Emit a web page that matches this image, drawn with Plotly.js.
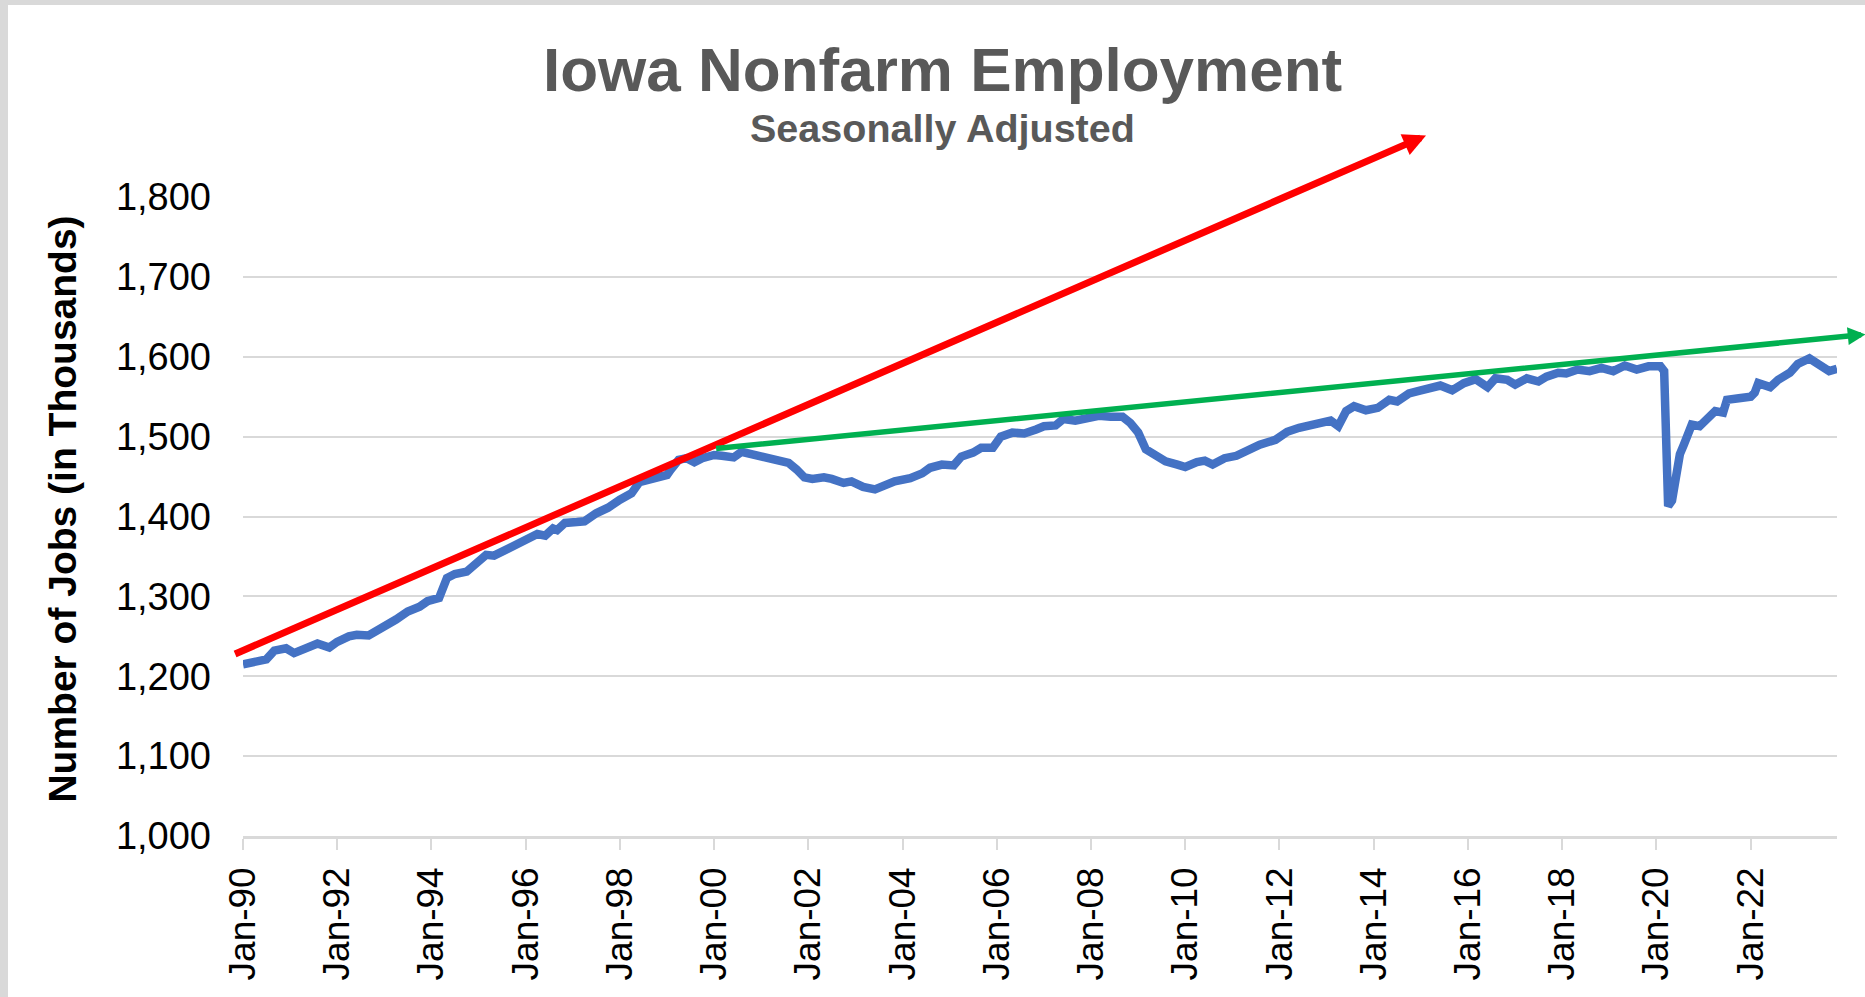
<!DOCTYPE html>
<html>
<head>
<meta charset="utf-8">
<script src="https://cdn.plot.ly/plotly-3.0.1.min.js"></script>
<style>
  html, body { margin: 0; padding: 0; background: #d9d9d9; width: 1865px; height: 997px; overflow: hidden; }
  #chart { position: absolute; left: 8px; top: 5px; width: 1857px; height: 992px; background: #ffffff; }
</style>
</head>
<body>
<div id="chart"></div>
<script>
// ---- Data (thousands of jobs) ----
const dates = [
  '1990-01','1990-04','1990-07','1990-09','1990-12','1991-02','1991-05','1991-08','1991-11',
  '1992-01','1992-04','1992-06','1992-09','1992-12','1993-02','1993-04','1993-07','1993-10','1993-12',
  '1994-03','1994-05','1994-07','1994-10','1995-01','1995-03','1995-05','1995-08','1995-11',
  '1996-02','1996-04','1996-06','1996-08','1996-09','1996-11','1997-02','1997-04','1997-07','1997-10',
  '1998-01','1998-04','1998-06','1998-09','1999-01','1999-02','1999-04','1999-06','1999-08','1999-10',
  '2000-01','2000-03','2000-06','2000-08','2000-11','2001-03','2001-05','2001-08','2001-10','2001-12',
  '2002-02','2002-05','2002-07','2002-10','2002-12','2003-03','2003-06','2003-08','2003-11',
  '2004-03','2004-06','2004-08','2004-11','2005-02','2005-04','2005-07','2005-09','2005-12',
  '2006-02','2006-05','2006-08','2006-11','2007-01','2007-04','2007-06','2007-09',
  '2008-01','2008-03','2008-06','2008-09','2008-11','2009-01','2009-03','2009-06','2009-08','2009-11',
  '2010-01','2010-04','2010-06','2010-08','2010-11','2011-02','2011-05','2011-08','2011-12',
  '2012-03','2012-06','2012-09','2012-12','2013-02','2013-04','2013-06','2013-08','2013-11',
  '2014-02','2014-05','2014-07','2014-10','2015-01','2015-04','2015-06','2015-09','2015-12',
  '2016-03','2016-06','2016-08','2016-11','2017-01','2017-04','2017-07','2017-09','2017-12',
  '2018-02','2018-05','2018-08','2018-11','2019-02','2019-05','2019-08','2019-11',
  '2020-01','2020-02','2020-03','2020-04','2020-05','2020-06','2020-07','2020-08','2020-10','2020-12',
  '2021-02','2021-04','2021-06','2021-07','2021-10','2022-01','2022-02','2022-03','2022-06','2022-08','2022-11',
  '2023-01','2023-04','2023-06','2023-09','2023-11'
];
const jobs = [
  1215,1219,1221,1232,1235,1229,1236,1241,1236,
  1243,1250,1252,1251,1259,1263,1271,1281,1287,1294,
  1298,1323,1328,1331,1342,1352,1351,1358,1367,
  1374,1378,1376,1385,1383,1392,1393,1394,1404,1411,
  1421,1429,1443,1446,1452,1459,1471,1473,1468,1473,
  1477,1476,1474,1481,1478,1473,1472,1467,1459,1449,
  1447,1449,1447,1442,1444,1437,1434,1438,1444,
  1448,1454,1461,1465,1464,1475,1480,1486,1486,
  1500,1505,1504,1509,1513,1514,1522,1520,
  1525,1526,1525,1525,1517,1505,1484,1476,1469,1465,
  1462,1468,1470,1465,1473,1476,1483,1490,1496,
  1506,1511,1514,1517,1520,1513,1532,1538,1533,
  1536,1546,1544,1554,1558,1562,1564,1558,1567,
  1572,1562,1573,1571,1565,1573,1569,1575,1580,
  1579,1584,1582,1586,1582,1589,1584,1588,
  1588,1588,1582,1413,1420,1460,1478,1490,1515,1513,
  1521,1532,1530,1546,1548,1550,1555,1567,1562,1571,1580,
  1591,1598,1592,1582,1585
];

// Trend arrows: [tail, head] as date / value
const redArrowX = ['1989-10-20', '2015-02-10'];
const redArrowY = [1227, 1877];
const greenArrowX = ['2000-01-05', '2024-06-10'];
const greenArrowY = [1485, 1628];

// Axis settings
const xRange = ['1990-01-01', '2023-11-01'];
const yRange = [1000, 1800];

const titleText = '<b>Iowa Nonfarm Employment</b>';
const subtitleText = '<b>Seasonally Adjusted</b>';
const yTitleText = '<b>Number of Jobs (in Thousands)</b>';

const FONT = 'Liberation Sans, Arial, sans-serif';

const trace = {
  x: dates.map(d => d + '-01'),
  y: jobs,
  type: 'scatter',
  mode: 'lines',
  line: { color: '#4472C4', width: 8.5 },
  hoverinfo: 'x+y',
  showlegend: false
};

const layout = {
  width: 1857,
  height: 992,
  margin: { l: 235, r: 28, t: 192, b: 161, pad: 0 },
  paper_bgcolor: '#ffffff',
  plot_bgcolor: 'rgba(0,0,0,0)',
  font: { family: FONT, color: '#000000' },
  showlegend: false,
  xaxis: {
    type: 'date',
    range: xRange,
    tick0: '1990-01-01',
    dtick: 'M24',
    tickformat: '%b-%y',
    tickangle: -90,
    ticks: 'outside',
    ticklen: 11,
    tickwidth: 2,
    tickcolor: '#d9d9d9',
    showline: true,
    linecolor: '#d9d9d9',
    linewidth: 2.5,
    showgrid: false,
    zeroline: false,
    tickfont: { family: FONT, size: 37, color: '#000000' },
    ticklabelstandoff: 3
  },
  yaxis: {
    range: yRange,
    dtick: 100,
    tick0: 1000,
    tickformat: ',d',
    showgrid: true,
    gridcolor: '#d9d9d9',
    gridwidth: 2,
    zeroline: false,
    showline: false,
    ticks: '',
    tickfont: { family: FONT, size: 38, color: '#000000' },
    ticklabelstandoff: 31
  },
  annotations: [
    { text: titleText, xref: 'paper', yref: 'paper', x: 0.4386, y: 1.1995,
      xanchor: 'center', yanchor: 'middle', showarrow: false,
      font: { family: FONT, size: 62, color: '#595959' } },
    { text: subtitleText, xref: 'paper', yref: 'paper', x: 0.4386, y: 1.108,
      xanchor: 'center', yanchor: 'middle', showarrow: false,
      font: { family: FONT, size: 39.5, color: '#595959' } },
    { text: yTitleText, xref: 'paper', yref: 'paper', x: -0.113, y: 0.5122,
      xanchor: 'center', yanchor: 'middle', textangle: -90, showarrow: false,
      font: { family: FONT, size: 39, color: '#000000' } },
    { text: '', xref: 'x', yref: 'y', axref: 'x', ayref: 'y',
      x: redArrowX[1], y: redArrowY[1], ax: redArrowX[0], ay: redArrowY[0],
      showarrow: true, arrowhead: 2, arrowsize: 0.65, arrowwidth: 7,
      arrowcolor: '#FF0000', standoff: 0, startstandoff: 0 },
    { text: '', xref: 'x', yref: 'y', axref: 'x', ayref: 'y',
      x: greenArrowX[1], y: greenArrowY[1], ax: greenArrowX[0], ay: greenArrowY[0],
      showarrow: true, arrowhead: 2, arrowsize: 0.65, arrowwidth: 5.5,
      arrowcolor: '#00B050', standoff: 0, startstandoff: 0 }
  ]
};

Plotly.newPlot('chart', [trace], layout, { displayModeBar: false, staticPlot: true });
</script>
</body>
</html>
